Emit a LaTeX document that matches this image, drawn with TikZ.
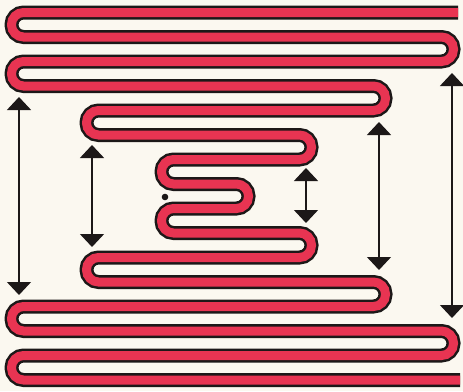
\documentclass[tikz,border=0pt]{standalone}
\usetikzlibrary{arrows.meta}
\definecolor{paper}{RGB}{251,248,240}
\definecolor{tubered}{RGB}{232,52,82}
\definecolor{ink}{RGB}{28,24,24}
\tikzset{
  tubeedge/.style={draw=ink,line width=14pt,line cap=butt,rounded corners=12pt},
  tubefill/.style={draw=tubered,line width=9pt,line cap=butt,rounded corners=12pt},
  dimarrow/.style={draw=ink,line width=1.3pt,
    {Triangle[width=24pt,length=13pt]}-{Triangle[width=24pt,length=13pt]}},
}
\begin{document}
\begin{tikzpicture}[x=1pt,y=-1pt]
\fill[paper] (0,0) rectangle (463,391);
\useasboundingbox (0,0) rectangle (463,391);
\def\tubepath{(458,12.5) -- (11.5,12.5) -- (11.5,37) -- (453.5,37) -- (453.5,61.5) -- (11.5,61.5) -- (11.5,86) -- (385.5,86) -- (385.5,110.5) -- (86.5,110.5) -- (86.5,135) -- (311.5,135) -- (311.5,159.5) -- (161.5,159.5) -- (161.5,184) -- (248.5,184) -- (248.5,208.5) -- (161.5,208.5) -- (161.5,233) -- (311.5,233) -- (311.5,257.5) -- (86.5,257.5) -- (86.5,282) -- (385.5,282) -- (385.5,306.5) -- (11.5,306.5) -- (11.5,331) -- (453.5,331) -- (453.5,355.5) -- (11.5,355.5) -- (11.5,380) -- (460,380)}
\draw[tubeedge] \tubepath;
\draw[tubefill] \tubepath;
% dot
\fill[ink] (165,197) circle [radius=3.3pt];
% arrow end points
\coordinate (a1t) at (19,97);
\coordinate (a1b) at (19,295);
\coordinate (a2t) at (92,145);
\coordinate (a2b) at (92,247);
\coordinate (a3t) at (306,168);
\coordinate (a3b) at (306,223);
\coordinate (a4t) at (379,122);
\coordinate (a4b) at (379,270);
\coordinate (a5t) at (452,73);
\coordinate (a5b) at (452,318);
\draw[dimarrow] (a1t) -- (a1b);
\draw[dimarrow] (a2t) -- (a2b);
\draw[dimarrow] (a3t) -- (a3b);
\draw[dimarrow] (a4t) -- (a4b);
\draw[dimarrow] (a5t) -- (a5b);
\end{tikzpicture}
\end{document}
